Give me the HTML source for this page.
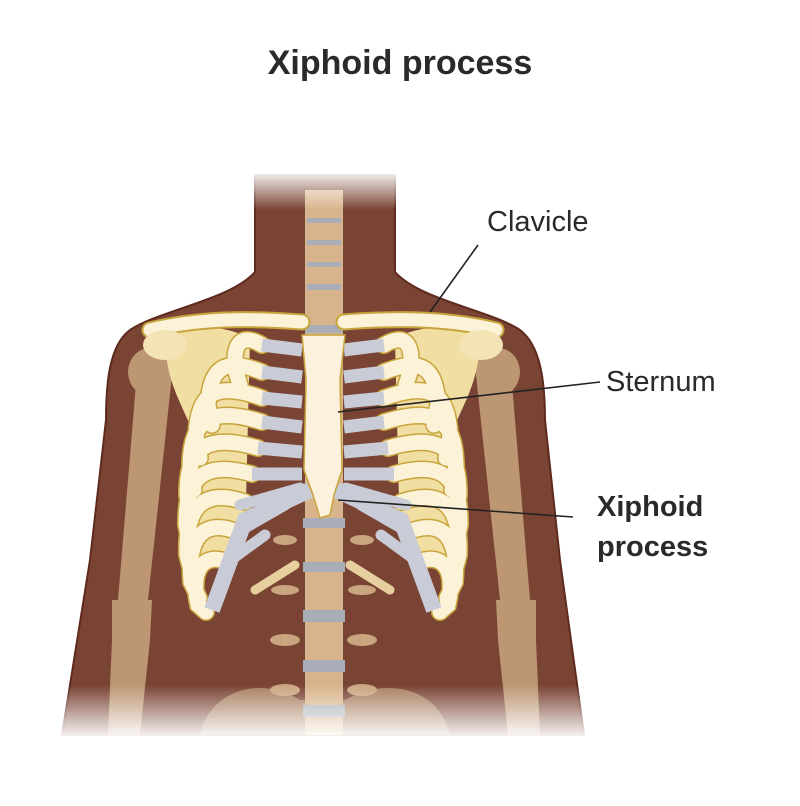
<!DOCTYPE html>
<html><head><meta charset="utf-8"><style>
html,body{margin:0;padding:0;background:#fff;}
body{width:800px;height:806px;overflow:hidden;position:relative;font-family:"Liberation Sans",sans-serif;}
.t{position:absolute;color:#2a2a2a;white-space:nowrap;}
</style></head><body>
<svg width="800" height="806" viewBox="0 0 800 806" style="position:absolute;left:0;top:0">
<defs>
<linearGradient id="fadeB" x1="0" y1="0" x2="0" y2="1">
<stop offset="0" stop-color="#fff" stop-opacity="0"/><stop offset="1" stop-color="#fff" stop-opacity="1"/></linearGradient>
<linearGradient id="fadeT" x1="0" y1="0" x2="0" y2="1">
<stop offset="0" stop-color="#fff" stop-opacity="1"/><stop offset="1" stop-color="#fff" stop-opacity="0"/></linearGradient>
<g id="rp">
<path d="M262,345 C240,332 232,345 236,372 L240,385"/>
<path d="M262,372 C222,356 210,370 208,405 L212,425"/>
<path d="M262,398 C212,380 198,396 196,435 L200,458"/>
<path d="M262,422 C208,405 191,422 190,465 L194,490"/>
<path d="M258,448 C203,432 187,450 187,495 L191,520"/>
<path d="M252,474 C203,460 185,478 186,525 L191,550"/>
<path d="M245,502 C203,488 185,507 187,555 L193,578"/>
<path d="M238,532 C203,518 187,538 191,582 L199,598"/>
<path d="M228,562 C203,552 190,570 198,605 L206,612"/>
</g>
<g id="ribsL" stroke-linecap="round" fill="none">
<use href="#rp" stroke="#c8a53c" stroke-width="18"/>
<use href="#rp" stroke="#fbf2d8" stroke-width="15"/>
<g stroke="#c9cbd6" stroke-width="13" stroke-linecap="butt">
<path d="M302,350 L262,345"/>
<path d="M302,377 L262,372"/>
<path d="M302,402 L262,398"/>
<path d="M302,427 L262,422"/>
<path d="M302,452 L258,448"/>
<path d="M302,474 L252,474"/>
</g>
<path d="M310,490 L245,520 L212,610" stroke="#c9cbd6" stroke-width="16" stroke-linecap="butt"/>
<path d="M300,488 L240,505 M285,505 L238,532 M265,535 L228,562" stroke="#c9cbd6" stroke-width="11"/>
</g>
</defs>
<path d="M255,175 L255,272 C230,300 160,310 130,330 C110,345 106,380 106,420 L90,560 L62,735 L584,735 L560,560 L545,420 C545,380 540,345 520,330 C490,310 420,300 395,272 L395,175 Z" fill="#7a4434" stroke="#5e2a1e" stroke-width="2"/>
<g fill="#c9a580" opacity="0.85">
<path d="M138,360 C150,345 175,350 172,375 L148,600 L118,600 Z"/>
<ellipse cx="150" cy="372" rx="22" ry="24"/>
<path d="M112,600 L152,600 L150,640 L140,735 L108,735 L112,640 Z"/>
<path d="M510,360 C498,345 473,350 476,375 L500,600 L530,600 Z"/>
<ellipse cx="498" cy="372" rx="22" ry="24"/>
<path d="M536,600 L496,600 L498,640 L508,735 L540,735 L536,640 Z"/>
</g>
<path d="M200,735 C210,690 260,675 300,700 L345,700 C390,675 440,690 450,735 Z" fill="#c9a680" opacity="0.6"/>
<path d="M165,335 C200,320 240,330 250,340 L245,540 C230,570 205,570 195,555 L192,430 C180,400 165,380 165,335 Z" fill="#f1dea3"/>
<path d="M480,335 C445,320 405,330 395,340 L400,540 C415,570 440,570 450,555 L453,430 C465,400 480,380 480,335 Z" fill="#f1dea3"/>
<rect x="305" y="190" width="38" height="545" fill="#d8b48c"/>
<g fill="#a9adb8">
<rect x="307" y="218" width="34" height="5"/><rect x="307" y="240" width="34" height="5"/>
<rect x="307" y="262" width="34" height="5"/><rect x="307" y="284" width="34" height="6"/>
<rect x="305" y="325" width="38" height="8"/><rect x="303" y="518" width="42" height="10"/>
<rect x="303" y="562" width="42" height="10"/><rect x="303" y="610" width="42" height="12"/>
<rect x="303" y="660" width="42" height="12"/><rect x="303" y="705" width="42" height="12"/>
</g>
<g fill="#c9a680">
<ellipse cx="285" cy="540" rx="12" ry="5"/><ellipse cx="362" cy="540" rx="12" ry="5"/>
<ellipse cx="285" cy="590" rx="14" ry="5"/><ellipse cx="362" cy="590" rx="14" ry="5"/>
<ellipse cx="285" cy="640" rx="15" ry="6"/><ellipse cx="362" cy="640" rx="15" ry="6"/>
<ellipse cx="285" cy="690" rx="15" ry="6"/><ellipse cx="362" cy="690" rx="15" ry="6"/>
</g>
<path d="M295,565 L255,590 M350,565 L390,590" stroke="#e8cfa0" stroke-width="9" stroke-linecap="round"/>
<use href="#ribsL"/>
<use href="#ribsL" transform="translate(646,0) scale(-1,1)"/>
<path d="M302,335 L345,335 L340,380 L342,470 L334,495 L330,515 L320,518 L313,495 L304,470 L306,380 Z" fill="#fcf1dc" stroke="#c8a53c" stroke-width="1.5"/>
<g stroke-linecap="round" fill="none">
<path d="M150,330 C200,318 250,318 302,322" stroke="#c8a53c" stroke-width="17"/>
<path d="M150,330 C200,318 250,318 302,322" stroke="#fbf2d8" stroke-width="13"/>
<path d="M496,330 C446,318 396,318 344,322" stroke="#c8a53c" stroke-width="17"/>
<path d="M496,330 C446,318 396,318 344,322" stroke="#fbf2d8" stroke-width="13"/>
</g>
<ellipse cx="165" cy="345" rx="22" ry="15" fill="#f3e3b5"/>
<ellipse cx="481" cy="345" rx="22" ry="15" fill="#f3e3b5"/>
<rect x="0" y="685" width="800" height="55" fill="url(#fadeB)"/>
<rect x="0" y="739" width="800" height="80" fill="#fff"/>
<rect x="230" y="170" width="190" height="40" fill="url(#fadeT)"/>
<g stroke="#222" stroke-width="1.6">
<line x1="478" y1="245" x2="430" y2="312"/>
<line x1="600" y1="382" x2="338" y2="412"/>
<line x1="573" y1="517" x2="338" y2="500"/>
</g>
</svg>
<div class="t" style="left:0;width:800px;text-align:center;top:44px;font-size:34px;font-weight:bold;">Xiphoid process</div>
<div class="t" style="left:487px;top:206px;font-size:29px;">Clavicle</div>
<div class="t" style="left:606px;top:366px;font-size:29px;">Sternum</div>
<div class="t" style="left:597px;top:487px;font-size:29px;font-weight:bold;line-height:40px;">Xiphoid<br>process</div>
</body></html>
